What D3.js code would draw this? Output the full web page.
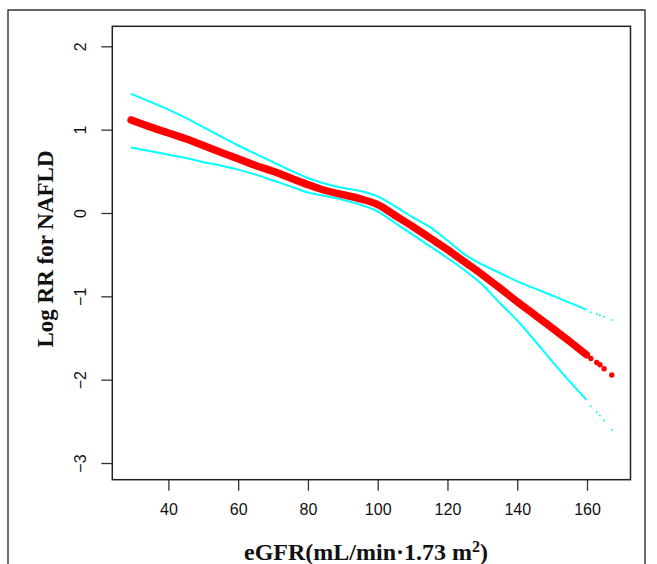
<!DOCTYPE html>
<html><head><meta charset="utf-8">
<script src="https://cdn.jsdelivr.net/npm/d3@7"></script>
<style>html,body{margin:0;padding:0;background:#fff;}svg{display:block;}</style>
</head><body>
<svg id="chart" width="657" height="564"></svg>
<script>
// ---- data ----
const egfr  = [29.3, 35, 40, 45, 50, 55, 60, 65, 70, 75, 80, 85, 90, 95, 100, 105, 110, 115, 120, 125, 130, 135, 140, 145, 150, 155, 159.8];
const fit   = [1.116, 1.03, 0.96, 0.89, 0.81, 0.73, 0.65, 0.57, 0.50, 0.42, 0.34, 0.27, 0.22, 0.17, 0.10, -0.03, -0.16, -0.30, -0.44, -0.59, -0.74, -0.90, -1.065, -1.22, -1.38, -1.54, -1.70];
const upper = [1.43, 1.33, 1.24, 1.14, 1.03, 0.92, 0.81, 0.71, 0.61, 0.51, 0.42, 0.35, 0.30, 0.265, 0.20, 0.08, -0.05, -0.17, -0.33, -0.50, -0.62, -0.72, -0.82, -0.905, -0.99, -1.075, -1.16];
const lower = [0.787, 0.74, 0.70, 0.66, 0.61, 0.57, 0.52, 0.46, 0.39, 0.32, 0.245, 0.205, 0.16, 0.10, 0.02, -0.12, -0.26, -0.40, -0.54, -0.69, -0.86, -1.08, -1.29, -1.53, -1.78, -2.02, -2.24];
const tailEgfr  = [161.1, 162.8, 163.7, 164.9, 167.1];
const tailFit   = [-1.745, -1.793, -1.82, -1.868, -1.944];
const tailUpper = [-1.19, -1.21, -1.225, -1.245, -1.284];
const tailLower = [-2.32, -2.39, -2.43, -2.49, -2.60];
const xTicks = [40, 60, 80, 100, 120, 140, 160];
const yTicks = [-3, -2, -1, 0, 1, 2];
const yTickLabels = ["\u22123", "\u22122", "\u22121", "0", "1", "2"];
const xTitle = "eGFR(mL/min\u00B71.73 m";
const yTitle = "Log RR for NAFLD";

// ---- drawing ----
const svg = d3.select("#chart");
const L = 112.3, R = 630.5, T = 26.3, B = 479.7;
const x = d3.scaleLinear().domain([23.92, 172.47]).range([L, R]);
const y = d3.scaleLinear().domain([-3.2, 2.24]).range([B, T]);

// outer frame
svg.append("path")
  .attr("d", `M8,570 L8,10 L645,10 L645,570`)
  .attr("fill", "none").attr("stroke", "#333").attr("stroke-width", 1.4);

// axes
const xAxis = svg.append("g").attr("transform", `translate(0,${B})`)
  .call(d3.axisBottom(x).tickValues(xTicks).tickFormat(d3.format("d")).tickSize(11).tickSizeOuter(0));
xAxis.select(".domain").remove();
xAxis.selectAll("line").attr("stroke", "#333").attr("stroke-width", 1.3);
xAxis.selectAll("text").attr("y", 35.5).attr("dy", null)
  .attr("font-family", "Liberation Sans, Arial, sans-serif").attr("font-size", 16).attr("fill", "#111");

const yAxis = svg.append("g").attr("transform", `translate(${L},0)`)
  .call(d3.axisLeft(y).tickValues(yTicks).tickFormat((d, i) => yTickLabels[i]).tickSize(11).tickSizeOuter(0));
yAxis.select(".domain").remove();
yAxis.selectAll("line").attr("stroke", "#333").attr("stroke-width", 1.3);
yAxis.selectAll("text")
  .attr("x", null).attr("dy", null)
  .attr("text-anchor", "middle")
  .attr("transform", "translate(-26.3,0) rotate(-90)")
  .attr("font-family", "Liberation Sans, Arial, sans-serif").attr("font-size", 16).attr("fill", "#111");

// plot box
svg.append("rect").attr("x", L).attr("y", T).attr("width", R - L).attr("height", B - T)
  .attr("fill", "none").attr("stroke", "#222").attr("stroke-width", 1.5);

const line = d3.line().x(d => x(d[0])).y(d => y(d[1])).curve(d3.curveCatmullRom);

svg.append("path").datum(egfr.map((e, i) => [e, upper[i]])).attr("d", line)
  .attr("fill", "none").attr("stroke", "#00FFFF").attr("stroke-width", 2);
svg.append("path").datum(egfr.map((e, i) => [e, lower[i]])).attr("d", line)
  .attr("fill", "none").attr("stroke", "#00FFFF").attr("stroke-width", 2);
svg.append("path").datum(egfr.map((e, i) => [e, fit[i]])).attr("d", line)
  .attr("fill", "none").attr("stroke", "#FF0000").attr("stroke-width", 7.5)
  .attr("stroke-linecap", "round").attr("stroke-linejoin", "round");

// sparse tail points
svg.selectAll(".tu").data(tailEgfr).enter().append("circle")
  .attr("cx", d => x(d)).attr("cy", (d, i) => y(tailUpper[i])).attr("r", 1).attr("fill", "#00FFFF");
svg.selectAll(".tl").data(tailEgfr).enter().append("circle")
  .attr("cx", d => x(d)).attr("cy", (d, i) => y(tailLower[i])).attr("r", 1).attr("fill", "#00FFFF");
svg.selectAll(".tf").data(tailEgfr).enter().append("circle")
  .attr("cx", d => x(d)).attr("cy", (d, i) => y(tailFit[i])).attr("r", 2.7).attr("fill", "#FF0000");

// titles
const xt = svg.append("text").attr("x", 366).attr("y", 560).attr("text-anchor", "middle")
  .attr("font-family", "Liberation Serif, Times New Roman, serif").attr("font-weight", "bold")
  .attr("font-size", 24).attr("fill", "#111");
xt.append("tspan").text(xTitle);
xt.append("tspan").attr("font-size", 16).attr("dy", -8).text("2");
xt.append("tspan").attr("dy", 8).text(")");

svg.append("text").attr("transform", `translate(52.7,${(T + B) / 2 - 4}) rotate(-90)`)
  .attr("text-anchor", "middle")
  .attr("font-family", "Liberation Serif, Times New Roman, serif").attr("font-weight", "bold")
  .attr("font-size", 23).attr("fill", "#111").text(yTitle);
</script>
</body></html>
